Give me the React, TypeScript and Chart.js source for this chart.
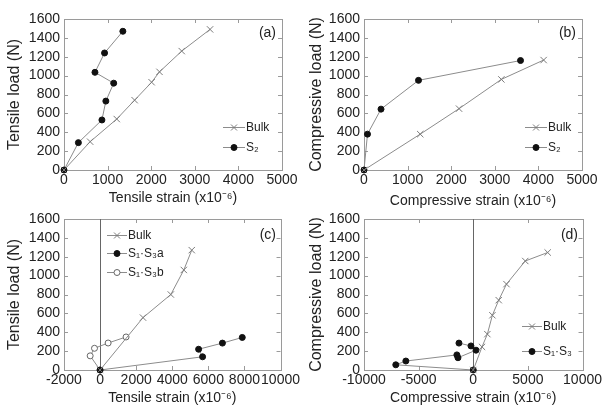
import React, { useEffect, useRef } from "react";
import { Chart, registerables } from "chart.js";
Chart.register(...registerables);

const FONT = '"Liberation Sans", Arial, Helvetica, sans-serif';

// Panel (a) tensile, S2
const aBulkX = [0, 600, 1210, 1620, 2010, 2190, 2700, 3350];
const aBulkY = [0, 300, 540, 740, 930, 1040, 1260, 1490];
const aS2X = [0, 330, 870, 960, 1140, 710, 930, 1350];
const aS2Y = [0, 290, 530, 730, 920, 1035, 1240, 1470];
// Panel (b) compressive, S2
const bBulkX = [0, 1290, 2180, 3150, 4120];
const bBulkY = [0, 380, 650, 960, 1165];
const bS2X = [0, 80, 390, 1250, 3590];
const bS2Y = [0, 380, 645, 950, 1160];
// Panel (c) tensile, S1·S3
const cBulkX = [0, 2380, 3920, 4640, 5080];
const cBulkY = [0, 555, 800, 1060, 1270];
const cS13aX = [0, 5680, 5460, 6780, 7880];
const cS13aY = [0, 140, 220, 285, 345];
const cS13bX = [0, -550, -310, 445, 1440];
const cS13bY = [0, 150, 230, 286, 350];
// Panel (d) compressive, S1·S3
const dBulkX = [0, 800, 1290, 1750, 2330, 3040, 4760, 6810];
const dBulkY = [0, 245, 380, 580, 740, 910, 1155, 1245];
const dS13X = [0, -7090, -6170, -1500, -1400, 250, -210, -1310];
const dS13Y = [0, 55, 95, 160, 130, 210, 255, 285];

// Axis ranges / labels
const yTicksLoad = { min: 0, max: 1600, step: 200 };
const xRangeA = { min: 0, max: 5000, step: 1000 };
const xRangeC = { min: -2000, max: 10000, step: 2000 };
const xRangeD = { min: -10000, max: 10000, step: 5000 };
const tensileStrainTitle = "Tensile strain (x10\u207B\u2076)";
const compStrainTitle = "Compressive strain (x10\u207B\u2076)";
const tensileLoadTitle = "Tensile load (N)";
const compLoadTitle = "Compressive load (N)";

const LINE = "#8c8c8c";
const TEXT = "#222";

type Kind = "bulk" | "filled" | "open";

function pts(xs: number[], ys: number[]) {
  return xs.map((x, i) => ({ x, y: ys[i] }));
}

function ds(label: string, xs: number[], ys: number[], kind: Kind) {
  const base: any = {
    label,
    data: pts(xs, ys),
    showLine: true,
    borderColor: LINE,
    borderWidth: 1,
    clip: false,
    tension: 0,
  };
  if (kind === "bulk") {
    return { ...base, pointStyle: "crossRot", pointRadius: 4.5, pointBorderColor: "#7a7a7a", pointBorderWidth: 1, pointBackgroundColor: "#7a7a7a" };
  }
  if (kind === "filled") {
    return { ...base, pointStyle: "circle", pointRadius: 3, pointBorderColor: "#111", pointBorderWidth: 1, pointBackgroundColor: "#111" };
  }
  return { ...base, pointStyle: "circle", pointRadius: 3, pointBorderColor: "#666", pointBorderWidth: 1, pointBackgroundColor: "#fff" };
}

function drawMarker(ctx: CanvasRenderingContext2D, kind: Kind, x: number, y: number) {
  ctx.save();
  if (kind === "bulk") {
    ctx.strokeStyle = "#7a7a7a";
    ctx.lineWidth = 1;
    const r = 3;
    ctx.beginPath();
    ctx.moveTo(x - r, y - r); ctx.lineTo(x + r, y + r);
    ctx.moveTo(x - r, y + r); ctx.lineTo(x + r, y - r);
    ctx.stroke();
  } else {
    ctx.beginPath();
    ctx.arc(x, y, 3, 0, Math.PI * 2);
    ctx.fillStyle = kind === "filled" ? "#111" : "#fff";
    ctx.fill();
    ctx.strokeStyle = kind === "filled" ? "#111" : "#666";
    ctx.lineWidth = 1;
    ctx.stroke();
  }
  ctx.restore();
}

interface LegendItem { text: string; kind: Kind; y: number }
interface PanelCfg {
  datasets: any[];
  xr: { min: number; max: number; step: number };
  xTitle: string;
  yTitle: string;
  zeroLine: boolean;
  legendX1: number;
  legendX2: number;
  legend: LegendItem[];
  label: string;
  labelX: number;
  labelY: number;
  padRight: number;
  padTop: number;
  yAxisW: number;
  xAxisH: number;
  xTitlePad: number;
  width: number;
  height: number;
  left: number;
  top: number;
}

function makePlugin(cfg: PanelCfg) {
  return {
    id: "framePlugin",
    beforeDatasetsDraw(chart: any) {
      const { ctx, chartArea } = chart;
      const { left, right, top, bottom } = chartArea;
      const xs = chart.scales.x;
      const ys = chart.scales.y;
      ctx.save();
      ctx.strokeStyle = "#9a9a9a";
      ctx.lineWidth = 1;
      ctx.strokeRect(Math.round(left) + 0.5, Math.round(top) + 0.5, Math.round(right - left), Math.round(bottom - top));
      ctx.beginPath();
      xs.ticks.forEach((t: any) => {
        const px = Math.round(xs.getPixelForValue(t.value)) + 0.5;
        ctx.moveTo(px, bottom); ctx.lineTo(px, bottom - 4);
        ctx.moveTo(px, top); ctx.lineTo(px, top + 4);
      });
      ys.ticks.forEach((t: any) => {
        const py = Math.round(ys.getPixelForValue(t.value)) + 0.5;
        ctx.moveTo(left, py); ctx.lineTo(left + 4, py);
        ctx.moveTo(right, py); ctx.lineTo(right - 4, py);
      });
      ctx.stroke();
      if (cfg.zeroLine) {
        const px = Math.round(xs.getPixelForValue(0)) + 0.5;
        ctx.strokeStyle = "#666";
        ctx.beginPath();
        ctx.moveTo(px, top); ctx.lineTo(px, bottom);
        ctx.stroke();
      }
      ctx.restore();
    },
    afterDatasetsDraw(chart: any) {
      const { ctx } = chart;
      ctx.save();
      cfg.legend.forEach((it) => {
        ctx.strokeStyle = LINE;
        ctx.lineWidth = 1;
        ctx.beginPath();
        ctx.moveTo(cfg.legendX1, it.y + 0.5);
        ctx.lineTo(cfg.legendX2, it.y + 0.5);
        ctx.stroke();
        drawMarker(ctx, it.kind, (cfg.legendX1 + cfg.legendX2) / 2, it.y + 0.5);
        ctx.fillStyle = TEXT;
        ctx.font = `12px ${FONT}`;
        ctx.textAlign = "left";
        ctx.textBaseline = "middle";
        ctx.fillText(it.text, cfg.legendX2 + 1, it.y + 1);
      });
      ctx.fillStyle = TEXT;
      ctx.font = `14px ${FONT}`;
      ctx.textAlign = "right";
      ctx.textBaseline = "middle";
      ctx.fillText(cfg.label, cfg.labelX, cfg.labelY);
      ctx.restore();
    },
  };
}

function Panel({ cfg }: { cfg: PanelCfg }) {
  const ref = useRef<HTMLCanvasElement>(null);
  useEffect(() => {
    const chart = new Chart(ref.current!, {
      type: "scatter",
      data: { datasets: cfg.datasets },
      options: {
        responsive: false,
        animation: false,
        events: [],
        layout: { padding: { left: 0, right: cfg.padRight, top: cfg.padTop, bottom: 0 } },
        plugins: { legend: { display: false }, tooltip: { enabled: false } },
        scales: {
          x: {
            type: "linear",
            min: cfg.xr.min,
            max: cfg.xr.max,
            grid: { display: false, drawTicks: false },
            border: { display: false },
            ticks: {
              stepSize: cfg.xr.step,
              color: TEXT,
              font: { family: FONT, size: 14 },
              padding: 2,
              maxRotation: 0,
              autoSkip: false,
              callback: (v: any) => String(v),
            },
            title: {
              display: true,
              text: cfg.xTitle,
              color: TEXT,
              font: { family: FONT, size: 14 },
              padding: { top: 0, bottom: cfg.xTitlePad },
            },
            afterFit: (s: any) => { s.height = cfg.xAxisH; },
          },
          y: {
            type: "linear",
            min: yTicksLoad.min,
            max: yTicksLoad.max,
            grid: { display: false, drawTicks: false },
            border: { display: false },
            ticks: {
              stepSize: yTicksLoad.step,
              color: TEXT,
              font: { family: FONT, size: 14 },
              padding: 4,
              autoSkip: false,
              callback: (v: any) => String(v),
            },
            title: {
              display: true,
              text: cfg.yTitle,
              color: TEXT,
              font: { family: FONT, size: 16 },
              padding: { top: 5, bottom: 0 },
            },
            afterFit: (s: any) => { s.width = cfg.yAxisW; },
          },
        },
      } as any,
      plugins: [makePlugin(cfg)],
    });
    return () => chart.destroy();
  }, []);
  return (
    <canvas
      ref={ref}
      width={cfg.width}
      height={cfg.height}
      style={{ position: "absolute", left: cfg.left, top: cfg.top, width: cfg.width, height: cfg.height }}
    />
  );
}

const panelA: PanelCfg = {
  datasets: [ds("Bulk", aBulkX, aBulkY, "bulk"), ds("S\u2082", aS2X, aS2Y, "filled")],
  xr: xRangeA, xTitle: tensileStrainTitle, yTitle: tensileLoadTitle, zeroLine: false,
  legendX1: 223, legendX2: 245,
  legend: [{ text: "Bulk", kind: "bulk", y: 127 }, { text: "S\u2082", kind: "filled", y: 147 }],
  label: "(a)", labelX: 276, labelY: 33,
  padRight: 20, padTop: 19, yAxisW: 64, xAxisH: 42, xTitlePad: 5,
  width: 302, height: 212, left: 0, top: 0,
};
const panelB: PanelCfg = {
  datasets: [ds("Bulk", bBulkX, bBulkY, "bulk"), ds("S\u2082", bS2X, bS2Y, "filled")],
  xr: xRangeA, xTitle: compStrainTitle, yTitle: compLoadTitle, zeroLine: false,
  legendX1: 223, legendX2: 245,
  legend: [{ text: "Bulk", kind: "bulk", y: 127 }, { text: "S\u2082", kind: "filled", y: 147 }],
  label: "(b)", labelX: 274, labelY: 33,
  padRight: 22, padTop: 19, yAxisW: 62, xAxisH: 42, xTitlePad: 2,
  width: 302, height: 212, left: 302, top: 0,
};
const panelC: PanelCfg = {
  datasets: [
    ds("Bulk", cBulkX, cBulkY, "bulk"),
    ds("S\u2081\u00B7S\u2083a", cS13aX, cS13aY, "filled"),
    ds("S\u2081\u00B7S\u2083b", cS13bX, cS13bY, "open"),
  ],
  xr: xRangeC, xTitle: tensileStrainTitle, yTitle: tensileLoadTitle, zeroLine: true,
  legendX1: 107, legendX2: 127,
  legend: [
    { text: "Bulk", kind: "bulk", y: 29 },
    { text: "S\u2081\u00B7S\u2083a", kind: "filled", y: 47 },
    { text: "S\u2081\u00B7S\u2083b", kind: "open", y: 66 },
  ],
  label: "(c)", labelX: 276, labelY: 29,
  padRight: 20, padTop: 13, yAxisW: 64, xAxisH: 42, xTitlePad: 5,
  width: 302, height: 206, left: 0, top: 206,
};
const panelD: PanelCfg = {
  datasets: [ds("Bulk", dBulkX, dBulkY, "bulk"), ds("S\u2081\u00B7S\u2083", dS13X, dS13Y, "filled")],
  xr: xRangeD, xTitle: compStrainTitle, yTitle: compLoadTitle, zeroLine: true,
  legendX1: 220, legendX2: 240,
  legend: [{ text: "Bulk", kind: "bulk", y: 120 }, { text: "S\u2081\u00B7S\u2083", kind: "filled", y: 145 }],
  label: "(d)", labelX: 276, labelY: 29,
  padRight: 20, padTop: 13, yAxisW: 62, xAxisH: 42, xTitlePad: 5,
  width: 302, height: 206, left: 302, top: 206,
};

export default function App() {
  return (
    <div style={{ position: "absolute", left: 0, top: 0, width: 604, height: 412, background: "#fff" }}>
      <Panel cfg={panelA} />
      <Panel cfg={panelB} />
      <Panel cfg={panelC} />
      <Panel cfg={panelD} />
    </div>
  );
}
